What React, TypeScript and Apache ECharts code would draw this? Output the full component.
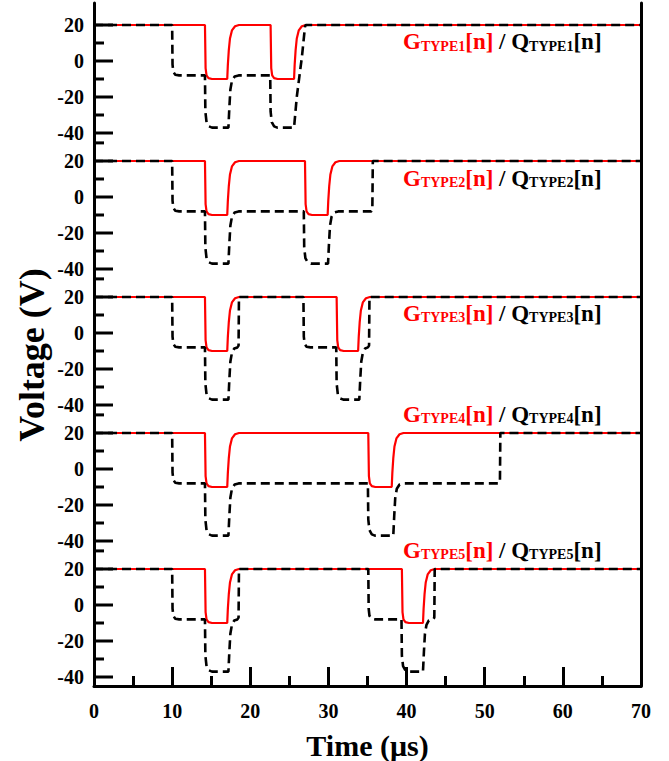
import React, { useEffect, useRef } from 'react';
import * as echarts from 'echarts';

// ---------- data ----------
const panelTypes = ['TYPE1', 'TYPE2', 'TYPE3', 'TYPE4', 'TYPE5'];
const voltMajorTicks = [20, 0, -20, -40];
const voltMinorTicks = [10, -10, -30];
const voltJoinTick = -45.5; // tick of the panel below (its 30 V), visible under -40
const timeMin = 0;
const timeMax = 70;
const timeInterval = 10;

const gType1 = [[0,20],[14.2,20],[14.28,-4],[14.4,-8],[14.65,-9.5],[15.1,-10],[17.05,-10],[17.13,-2],[17.25,6],[17.4,12.5],[17.65,17],[18.05,19.3],[18.55,20],
  [22.6,20],[22.68,-4],[22.8,-8],[23.05,-9.5],[23.5,-10],[25.6,-10],[25.68,-2],[25.8,6],[25.95,12.5],[26.2,17],[26.6,19.3],[27.1,20],[70,20]];
const gType2 = [[0,20],[14.2,20],[14.28,-4],[14.4,-8],[14.65,-9.5],[15.1,-10],[17.05,-10],[17.13,-2],[17.25,6],[17.4,12.5],[17.65,17],[18.05,19.3],[18.55,20],
  [27.0,20],[27.08,-4],[27.2,-8],[27.45,-9.5],[27.9,-10],[29.9,-10],[29.98,-2],[30.1,6],[30.25,12.5],[30.5,17],[30.9,19.3],[31.4,20],[70,20]];
const gType3 = [[0,20],[14.2,20],[14.28,-4],[14.4,-8],[14.65,-9.5],[15.1,-10],[17.05,-10],[17.13,-2],[17.25,6],[17.4,12.5],[17.65,17],[18.05,19.3],[18.55,20],
  [31.05,20],[31.13,-4],[31.25,-8],[31.5,-9.5],[31.95,-10],[33.8,-10],[33.88,-2],[34.0,6],[34.15,12.5],[34.4,17],[34.8,19.3],[35.3,20],[70,20]];
const gType4 = [[0,20],[14.2,20],[14.28,-4],[14.4,-8],[14.65,-9.5],[15.1,-10],[17.05,-10],[17.13,-2],[17.25,6],[17.4,12.5],[17.65,17],[18.05,19.3],[18.55,20],
  [35.1,20],[35.18,-4],[35.3,-8],[35.55,-9.5],[36.0,-10],[38.1,-10],[38.18,-2],[38.3,6],[38.45,12.5],[38.7,17],[39.1,19.3],[39.6,20],[70,20]];
const gType5 = [[0,20],[14.2,20],[14.28,-4],[14.4,-8],[14.65,-9.5],[15.1,-10],[17.05,-10],[17.13,-2],[17.25,6],[17.4,12.5],[17.65,17],[18.05,19.3],[18.55,20],
  [39.4,20],[39.48,-4],[39.6,-8],[39.85,-9.5],[40.3,-10],[42.1,-10],[42.18,-2],[42.3,6],[42.45,12.5],[42.7,17],[43.1,19.3],[43.6,20],[70,20]];

const qType1 = [[0,20],[10,20],[10.05,-2],[10.15,-6],[10.4,-7.6],[10.9,-8],
  [14.2,-8],[14.25,-28],[14.4,-34],[14.7,-36.3],[15.1,-37],
  [17.2,-37],[17.32,-26],[17.45,-16],[17.65,-11],[18.0,-8.6],[18.5,-8],
  [22.55,-8],[22.6,-28],[22.75,-34],[23.05,-36.3],[23.45,-37],
  [25.6,-37],[25.95,-20],[26.3,-8],[26.6,2],[27.0,19],[27.1,20],[70,20]];
const qType2 = [[0,20],[10,20],[10.05,-2],[10.15,-6],[10.4,-7.6],[10.9,-8],
  [14.2,-8],[14.25,-28],[14.4,-34],[14.7,-36.3],[15.1,-37],
  [17.2,-37],[17.32,-26],[17.45,-16],[17.65,-11],[18.0,-8.6],[18.5,-8],
  [26.85,-8],[26.9,-28],[27.05,-34],[27.35,-36.3],[27.75,-37],
  [29.95,-37],[30.07,-26],[30.2,-16],[30.4,-11],[30.75,-8.6],[31.25,-8],
  [35.5,-8],[35.62,-6.5],[35.68,20],[70,20]];
const qType3 = [[0,20],[10,20],[10.05,-2],[10.15,-6],[10.4,-7.6],[10.9,-8],
  [14.2,-8],[14.25,-28],[14.4,-34],[14.7,-36.3],[15.1,-37],
  [17.2,-37],[17.32,-26],[17.45,-16],[17.65,-11],[17.95,-8.6],[18.35,-8],[18.5,-7],[18.55,20],
  [26.8,20],[26.85,-2],[26.95,-6],[27.2,-7.6],[27.7,-8],
  [31.0,-8],[31.05,-28],[31.2,-34],[31.5,-36.3],[31.9,-37],
  [33.95,-37],[34.07,-26],[34.2,-16],[34.4,-11],[34.7,-8.6],[35.05,-8],[35.2,-7],[35.25,20],[70,20]];
const qType4 = [[0,20],[10,20],[10.05,-2],[10.15,-6],[10.4,-7.6],[10.9,-8],
  [14.2,-8],[14.25,-28],[14.4,-34],[14.7,-36.3],[15.1,-37],
  [17.2,-37],[17.32,-26],[17.45,-16],[17.65,-11],[18.0,-8.6],[18.5,-8],
  [35.05,-8],[35.1,-28],[35.25,-34],[35.55,-36.3],[35.95,-37],
  [38.3,-37],[38.42,-26],[38.55,-16],[38.75,-11],[39.1,-8.6],[39.6,-8],
  [51.85,-8],[51.95,-6.5],[52.0,20],[70,20]];
const qType5 = [[0,20],[10,20],[10.05,-2],[10.15,-6],[10.4,-7.6],[10.9,-8],
  [14.2,-8],[14.25,-28],[14.4,-34],[14.7,-36.3],[15.1,-37],
  [17.2,-37],[17.32,-26],[17.45,-16],[17.65,-11],[17.95,-8.6],[18.35,-8],[18.5,-7],[18.55,20],
  [35.1,20],[35.15,-2],[35.25,-6],[35.5,-7.6],[36.0,-8],
  [39.35,-8],[39.4,-28],[39.55,-34],[39.85,-36.3],[40.25,-37],
  [42.1,-37],[42.22,-26],[42.35,-16],[42.55,-11],[42.85,-8.6],[43.4,-8],[43.55,-7],[43.6,20],[70,20]];

const gSeries = [gType1, gType2, gType3, gType4, gType5];
const qSeries = [qType1, qType2, qType3, qType4, qType5];

// ---------- layout ----------
const W = 669;
const H = 761;
const PLOT_LEFT = 94;
const PLOT_RIGHT = 641;
const PX_PER_V = 1.8;
const TOP20 = [25, 161, 297, 433, 569]; // pixel row of the 20 V line of each panel
const PLOT_BOTTOM = 686;
const FIRST_TOP = 3;
const LABEL_Y = [41.5, 178, 313, 414, 550];
const LABEL_X = [403, 403, 403, 403, 403];
const MAJOR_LEN = 19;
const MINOR_LEN = 10;

const FONT = '"Liberation Serif", "Times New Roman", serif';
const AXIS_W = 3;

function tickSeries(gridIdx: number, yIdx: number, values: number[], len: number) {
  return {
    type: 'custom',
    xAxisIndex: gridIdx,
    yAxisIndex: yIdx,
    data: values.map((v) => [timeMin, v]),
    clip: false,
    silent: true,
    z: 5,
    renderItem: (params: any, api: any) => {
      const p = api.coord([api.value(0), api.value(1)]);
      return {
        type: 'line',
        shape: { x1: p[0], y1: p[1], x2: p[0] + len, y2: p[1] },
        style: { stroke: '#000', lineWidth: AXIS_W },
      };
    },
  };
}

export default function App() {
  const ref = useRef<HTMLDivElement>(null);

  useEffect(() => {
    if (!ref.current) return;
    const chart = echarts.init(ref.current, undefined, { renderer: 'svg', width: W, height: H });

    const grids: any[] = [];
    const xAxes: any[] = [];
    const yAxes: any[] = [];
    const series: any[] = [];
    const graphics: any[] = [];
    const plotW = PLOT_RIGHT - PLOT_LEFT;
    const Y_PER_GRID = 2;

    panelTypes.forEach((tp, i) => {
      const top = i === 0 ? FIRST_TOP : TOP20[i];
      const bottomPx = i < 4 ? TOP20[i + 1] : PLOT_BOTTOM;
      const yMax = 20 + (TOP20[i] - top) / PX_PER_V;
      const yMin = 20 - (bottomPx - TOP20[i]) / PX_PER_V;
      grids.push({
        left: PLOT_LEFT,
        width: plotW,
        top,
        height: bottomPx - top,
        containLabel: false,
      });
      const isBottom = i === 4;
      xAxes.push({
        type: 'value',
        gridIndex: i,
        min: timeMin,
        max: timeMax,
        interval: timeInterval,
        show: isBottom,
        axisLine: { show: isBottom, onZero: false, lineStyle: { color: '#000', width: AXIS_W } },
        axisTick: { show: isBottom, inside: true, length: MAJOR_LEN, lineStyle: { color: '#000', width: AXIS_W } },
        minorTick: { show: isBottom, splitNumber: 2, length: MINOR_LEN, lineStyle: { color: '#000', width: AXIS_W } },
        splitLine: { show: false },
        minorSplitLine: { show: false },
        axisLabel: {
          show: isBottom,
          margin: 15,
          color: '#000',
          fontFamily: FONT,
          fontWeight: 'bold',
          fontSize: 20,
        },
        name: isBottom ? 'Time (μs)' : '',
        nameLocation: 'middle',
        nameGap: 44,
        nameTextStyle: { color: '#000', fontFamily: FONT, fontWeight: 'bold', fontSize: 30 },
      });
      const minorVals = i < 4 ? [...voltMinorTicks, voltJoinTick] : voltMinorTicks;
      // left axis line + labels
      yAxes.push({
        type: 'value',
        gridIndex: i,
        min: yMin,
        max: yMax,
        position: 'left',
        axisLine: { show: true, onZero: false, lineStyle: { color: '#000', width: AXIS_W } },
        axisTick: { show: false },
        axisLabel: {
          show: true,
          customValues: voltMajorTicks,
          margin: 10,
          color: '#000',
          fontFamily: FONT,
          fontWeight: 'bold',
          fontSize: 20,
          showMinLabel: true,
          showMaxLabel: true,
        },
        splitLine: { show: false },
      });
      // right frame
      yAxes.push({
        type: 'value',
        gridIndex: i,
        min: yMin,
        max: yMax,
        position: 'right',
        axisLine: { show: true, onZero: false, lineStyle: { color: '#000', width: AXIS_W } },
        axisTick: { show: false },
        axisLabel: { show: false },
        splitLine: { show: false },
      });

      series.push({
        type: 'line',
        name: 'G' + tp,
        xAxisIndex: i,
        yAxisIndex: i * Y_PER_GRID,
        data: gSeries[i],
        showSymbol: false,
        symbol: 'none',
        clip: false,
        lineStyle: { color: '#ff0000', width: 2.2 },
        z: 3,
      });
      series.push({
        type: 'line',
        name: 'Q' + tp,
        xAxisIndex: i,
        yAxisIndex: i * Y_PER_GRID,
        data: qSeries[i],
        showSymbol: false,
        symbol: 'none',
        clip: false,
        lineStyle: { color: '#000', width: 2.6, type: [9, 5] },
        z: 4,
      });
      series.push(tickSeries(i, i * Y_PER_GRID, voltMajorTicks, MAJOR_LEN));
      series.push(tickSeries(i, i * Y_PER_GRID, minorVals, MINOR_LEN));

      graphics.push({
        type: 'text',
        x: LABEL_X[i],
        y: LABEL_Y[i],
        z: 10,
        style: {
          text: `{g|G}{gs|${tp}}{g|[n]}{q| / Q}{qs|${tp}}{q|[n]}`,
          align: 'left',
          verticalAlign: 'middle',
          rich: {
            g: { fill: '#ff0000', fontFamily: FONT, fontWeight: 'bold', fontSize: 23, verticalAlign: 'bottom' },
            gs: { fill: '#ff0000', fontFamily: FONT, fontWeight: 'bold', fontSize: 14, verticalAlign: 'bottom' },
            q: { fill: '#000', fontFamily: FONT, fontWeight: 'bold', fontSize: 23, verticalAlign: 'bottom' },
            qs: { fill: '#000', fontFamily: FONT, fontWeight: 'bold', fontSize: 14, verticalAlign: 'bottom' },
          },
        },
      });
    });

    graphics.push({
      type: 'text',
      x: 32,
      y: 355,
      rotation: Math.PI / 2,
      z: 10,
      style: {
        text: 'Voltage (V)',
        fill: '#000',
        font: `bold 36px ${FONT}`,
        align: 'center',
        verticalAlign: 'middle',
      },
    });

    chart.setOption({
      animation: false,
      backgroundColor: '#fff',
      grid: grids,
      xAxis: xAxes,
      yAxis: yAxes,
      series,
      graphic: graphics,
    });

    return () => chart.dispose();
  }, []);

  return (
    <div
      ref={ref}
      style={{ position: 'fixed', left: 0, top: 0, width: W, height: H, background: '#fff' }}
    />
  );
}
